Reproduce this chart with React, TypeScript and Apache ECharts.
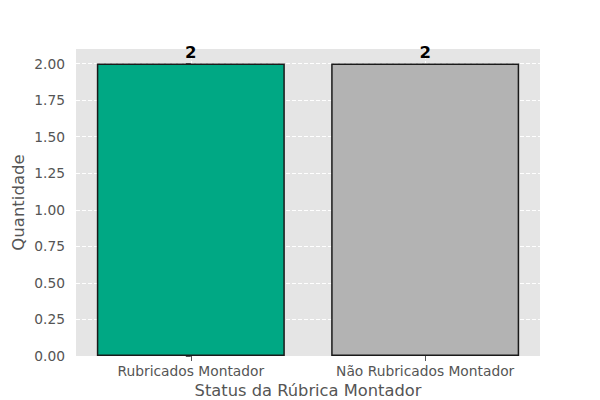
import React, { useEffect, useRef } from "react";
import * as echarts from "echarts";

const categories = ["Rubricados Montador", "Não Rubricados Montador"];
const values = [2, 2];
const barColors = ["#00A884", "#B3B3B3"];
const yTicks = [0, 0.25, 0.5, 0.75, 1.0, 1.25, 1.5, 1.75, 2.0];
const xTicks = [0, 1];

export default function App() {
  const ref = useRef<HTMLDivElement>(null);
  useEffect(() => {
    if (!ref.current) return;
    document.body.style.margin = "0";
    const chart = echarts.init(ref.current, null, { renderer: "svg" });
    const font = "DejaVu Sans";
    chart.setOption({
      animation: false,
      backgroundColor: "#ffffff",
      textStyle: { fontFamily: font },
      grid: {
        left: 76,
        right: 60,
        top: 49,
        bottom: 44,
        outerBoundsMode: "none",
        containLabel: false,
        show: true,
        backgroundColor: "#E5E5E5",
        borderWidth: 0,
      },
      xAxis: {
        type: "value",
        min: -0.49,
        max: 1.49,
        name: "Status da Rúbrica Montador",
        nameLocation: "middle",
        nameGap: 26,
        nameTextStyle: {
          fontFamily: font,
          fontSize: 16.3,
          lineHeight: 16,
          color: "#555555",
        },
        axisLine: { show: false },
        axisTick: {
          show: true,
          customValues: xTicks,
          length: 5,
          lineStyle: { color: "#555555", width: 1 },
        },
        axisLabel: {
          customValues: xTicks,
          margin: 8,
          fontFamily: font,
          fontSize: 13.8,
          color: "#555555",
          formatter: (v: number) => categories[Math.round(v)] ?? "",
        },
        splitLine: {
          show: true,
          lineStyle: { color: "#ffffff", type: [4, 2], width: 1 },
        },
      },
      yAxis: {
        type: "value",
        min: 0,
        max: 2.1,
        name: "Quantidade",
        nameLocation: "middle",
        nameGap: 49,
        nameMoveOverlap: false,
        nameTextStyle: { fontFamily: font, fontSize: 16.5, color: "#555555" },
        axisLine: { show: false },
        axisTick: {
          show: true,
          customValues: yTicks,
          length: 5,
          lineStyle: { color: "#555555", width: 1 },
        },
        axisLabel: {
          customValues: yTicks,
          margin: 11,
          fontFamily: font,
          fontSize: 13.8,
          color: "#555555",
          formatter: (v: number) => v.toFixed(2),
        },
        splitLine: {
          show: true,
          lineStyle: { color: "#ffffff", type: [4, 2], width: 1 },
        },
      },
      series: [
        {
          type: "bar",
          barWidth: 188,
          data: values.map((v, i) => ({
            value: [i, v],
            itemStyle: { color: barColors[i] },
          })),
          itemStyle: { borderColor: "#1a1a1a", borderWidth: 1.5 },
          label: {
            show: true,
            position: "top",
            distance: 3,
            fontFamily: font,
            fontSize: 16.5,
            fontWeight: "bold",
            color: "#000000",
            formatter: (p: any) => String(p.value[1]),
          },
        },
      ],
    });
    return () => chart.dispose();
  }, []);
  return (
    <div
      ref={ref}
      style={{ position: "absolute", left: 0, top: 0, width: 600, height: 400 }}
    />
  );
}
